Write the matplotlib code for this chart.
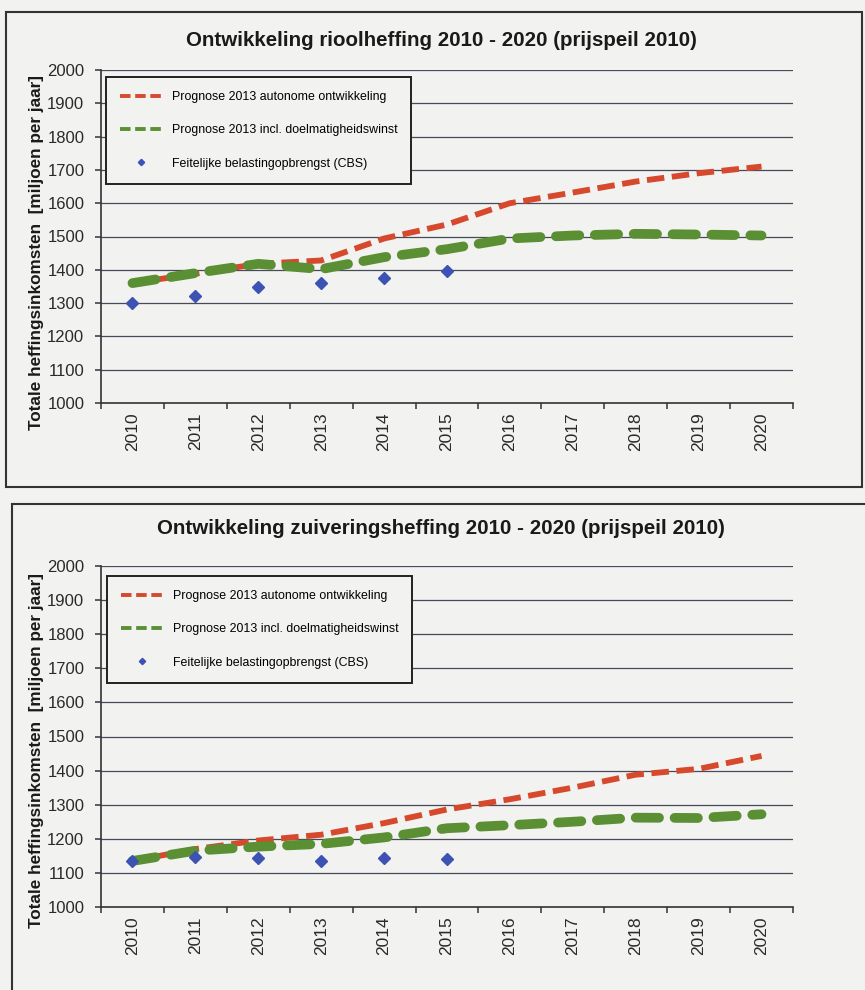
import matplotlib
matplotlib.use("Agg")
import matplotlib.pyplot as plt
from matplotlib.lines import Line2D
from matplotlib.patches import Rectangle
import numpy as np

plt.rcParams['font.family'] = ['Liberation Sans', 'DejaVu Sans']

years = ['2010', '2011', '2012', '2013', '2014', '2015', '2016', '2017', '2018', '2019', '2020']
cbs_years = ['2010', '2011', '2012', '2013', '2014', '2015']

# Rioolheffing
riool_autonoom = [1360, 1388, 1418, 1428, 1494, 1536, 1600, 1632, 1665, 1690, 1710]
riool_doelmatig = [1360, 1390, 1418, 1402, 1438, 1462, 1494, 1503, 1508, 1506, 1503]
riool_cbs = [1300, 1320, 1348, 1360, 1375, 1396]

# Zuiveringsheffing
zuiv_autonoom = [1135, 1170, 1195, 1212, 1246, 1286, 1316, 1350, 1388, 1405, 1443]
zuiv_doelmatig = [1135, 1165, 1177, 1185, 1204, 1231, 1240, 1250, 1262, 1261, 1272]
zuiv_cbs = [1135, 1148, 1145, 1135, 1143, 1142]

titles = ['Ontwikkeling rioolheffing 2010 - 2020 (prijspeil 2010)',
          'Ontwikkeling zuiveringsheffing 2010 - 2020 (prijspeil 2010)']
labels = ['Prognose 2013 autonome ontwikkeling',
          'Prognose 2013 incl. doelmatigheidswinst',
          'Feitelijke belastingopbrengst (CBS)']
ylabel = 'Totale heffingsinkomsten  [miljoen per jaar]'

RED = '#d6492c'
GREEN = '#5b8f34'
BLUE = '#3d53b3'
GRID = '#474a5a'
TXT = '#2a2a2a'
BG = '#f2f2f0'

W, H = 865, 990
fig = plt.figure(figsize=(W / 100, H / 100), dpi=100, facecolor=BG)

def fx(px):
    return px / W

def fy(py):
    return (H - py) / H

# frames
fig.patches.append(Rectangle((fx(6), fy(487)), fx(862) - fx(6), fy(12) - fy(487),
                             transform=fig.transFigure, fill=False, edgecolor='#333333', lw=1.5))
fig.patches.append(Rectangle((fx(12), fy(1000)), fx(870) - fx(12), fy(504) - fy(1000),
                             transform=fig.transFigure, fill=False, edgecolor='#333333', lw=1.5))

panels = [
    dict(top=70, bottom=403, title_y=40, leg=(106, 77), ylab_y=253,
         a=riool_autonoom, d=riool_doelmatig, c=riool_cbs, title=titles[0]),
    dict(top=566, bottom=907, title_y=528, leg=(107, 576), ylab_y=750,
         a=zuiv_autonoom, d=zuiv_doelmatig, c=zuiv_cbs, title=titles[1]),
]

x = np.arange(len(years))
xc = np.arange(len(cbs_years))

for p in panels:
    ax = fig.add_axes([fx(101), fy(p['bottom']), fx(793) - fx(101), fy(p['top']) - fy(p['bottom'])])
    ax.set_facecolor('none')
    ax.set_xlim(-0.5, len(years) - 0.5)
    ax.set_ylim(1000, 2000)
    ax.set_yticks(np.arange(1000, 2001, 100))
    for yv in np.arange(1100, 2001, 100):
        ax.axhline(yv, color=GRID, lw=0.9, zorder=1)

    ax.plot(x, p['a'], color=RED, lw=4.2, dashes=(3.0, 1.3), solid_capstyle='butt',
            dash_capstyle='butt', zorder=3)
    ax.plot(x, p['d'], color=GREEN, lw=7.0, dashes=(2.4, 1.6),
            dash_capstyle='round', zorder=4)
    ax.plot(xc, p['c'], linestyle='none', marker='D', ms=6.4, color=BLUE,
            markeredgecolor=BLUE, zorder=5)

    for s in ['top', 'right']:
        ax.spines[s].set_visible(False)
    for s in ['left', 'bottom']:
        ax.spines[s].set_color('#333333')
        ax.spines[s].set_linewidth(1.2)

    ax.set_xticks(x)
    ax.set_xticklabels(years, rotation=90, fontsize=12.5, color=TXT)
    ax.set_xticks(np.arange(-0.5, len(years), 1.0), minor=True)
    ax.tick_params(axis='x', which='major', length=0, pad=7)
    ax.tick_params(axis='x', which='minor', length=4, width=1.1, color='#333333', direction='out')
    ax.tick_params(axis='y', length=4, width=1.1, color='#333333', pad=8, labelsize=12,
                   labelcolor=TXT)

    handles = [Line2D([], [], color=RED, lw=2.8, dashes=(2.7, 1.2)),
               Line2D([], [], color=GREEN, lw=2.8, dashes=(2.7, 1.2)),
               Line2D([], [], color=BLUE, marker='D', ms=3.2, linestyle='none')]
    leg = ax.legend(handles, labels, loc='upper left',
                    bbox_to_anchor=(fx(p['leg'][0]), fy(p['leg'][1])),
                    bbox_transform=fig.transFigure, borderaxespad=0,
                    fontsize=8.9, frameon=True, fancybox=False, framealpha=1,
                    facecolor=BG, edgecolor='#222222', borderpad=1.15,
                    handlelength=3.3, handletextpad=0.85, labelspacing=1.72)
    leg.get_frame().set_linewidth(1.4)
    leg.set_zorder(10)

    fig.text(fx(441), fy(p['title_y']), p['title'], ha='center', va='center',
             fontsize=14.8, fontweight='bold', color='#1a1a1a')
    fig.text(fx(37), fy(p['ylab_y']), ylabel, ha='center', va='center', rotation=90,
             fontsize=12.3, fontweight='bold', color='#1a1a1a')

fig.savefig('out.png', dpi=100, facecolor=BG)
